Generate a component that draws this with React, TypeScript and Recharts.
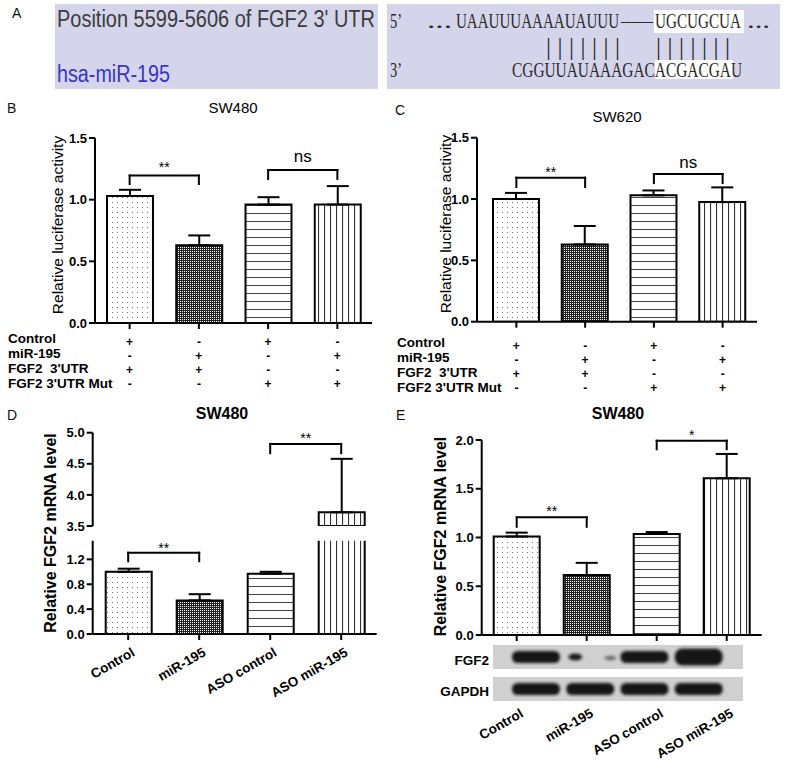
import React from 'react';
import { Bar, BarChart, Cell, ErrorBar, ReferenceLine, XAxis, YAxis } from 'recharts';

const FONT = '"Liberation Sans", Arial, Helvetica, sans-serif';
const SERIF = '"Liberation Serif", "Times New Roman", serif';
const LAVENDER = '#d4d4ea';

// panels B and C: luciferase reporter
const lucGroups = ['ctrl-wt', 'mir-wt', 'ctrl-mut', 'mir-mut'];
const sw480LucMean = [1.03, 0.63, 0.96, 0.96];
const sw480LucSem = [0.05, 0.08, 0.06, 0.15];
const sw620LucMean = [1.0, 0.63, 1.03, 0.975];
const sw620LucSem = [0.05, 0.15, 0.04, 0.12];
const lucTicks = [0, 0.5, 1.0, 1.5];

const tableRowLabels = ['Control', 'miR-195', "FGF2  3'UTR", "FGF2 3'UTR Mut"];
const tableRows = [
    ['+', '-', '+', '-'],
    ['-', '+', '-', '+'],
    ['+', '+', '-', '-'],
    ['-', '-', '+', '+'],
];

// panels D and E: FGF2 mRNA
const mrnaGroups = ['Control', 'miR-195', 'ASO control', 'ASO miR-195'];
const sw480MrnaMeanD = [1.0, 0.54, 0.97, 3.72];
const sw480MrnaSemD = [0.05, 0.1, 0.03, 0.86];
const dLowTicks = [0, 0.4, 0.8, 1.2];
const dHighTicks = [3.5, 4.0, 4.5, 5.0];
const sw480MrnaMeanE = [1.01, 0.615, 1.036, 1.607];
const sw480MrnaSemE = [0.04, 0.125, 0.02, 0.25];
const eTicks = [0, 0.5, 1.0, 1.5, 2.0];

// western blot band intensity (relative)
const fgf2Band = [1.0, 0.3, 1.0, 1.4];
const gapdhBand = [1.0, 1.0, 1.0, 1.0];

type Bracket = { from: string; to: string; y: number; low: number; text: string; gap: number; size: number };

const sw480LucBrackets: Bracket[] = [
    { from: 'ctrl-wt', to: 'mir-wt', y: 1.195, low: 1.127, text: '**', gap: 4, size: 14 },
    { from: 'ctrl-mut', to: 'mir-mut', y: 1.24, low: 1.168, text: 'ns', gap: 8.5, size: 17 },
];
const sw620LucBrackets: Bracket[] = [
    { from: 'ctrl-wt', to: 'mir-wt', y: 1.174, low: 1.098, text: '**', gap: 1, size: 14 },
    { from: 'ctrl-mut', to: 'mir-mut', y: 1.204, low: 1.13, text: 'ns', gap: 6.5, size: 17 },
];
const dLowBrackets: Bracket[] = [
    { from: 'Control', to: 'miR-195', y: 1.307, low: 1.17, text: '**', gap: 0, size: 14 },
];
const dHighBrackets: Bracket[] = [
    { from: 'ASO control', to: 'ASO miR-195', y: 4.82, low: 4.67, text: '**', gap: 1, size: 14 },
];
const eBrackets: Bracket[] = [
    { from: 'Control', to: 'miR-195', y: 1.207, low: 1.11, text: '**', gap: 1, size: 14 },
    { from: 'ASO control', to: 'ASO miR-195', y: 1.993, low: 1.905, text: '*', gap: 1, size: 14 },
];

const groupFills = ['url(#fillDots)', 'url(#fillChecker)', 'url(#fillHLines)', 'url(#fillVLines)'];

const black2 = { stroke: '#000', strokeWidth: 2 };

function yTick(p: any) {
    return (
        <text x={p.x} y={p.y} dy={4.6} textAnchor="end" fill="#000" fontSize={13} fontWeight={700} fontFamily={FONT}>
            {Number(p.payload.value).toFixed(1)}
        </text>
    );
}

function makeRows(groups: string[], mean: (number | null)[], sem: (number | null)[]) {
    return groups.map((name, i) => ({
        name,
        value: mean[i],
        err: mean[i] == null || sem[i] == null ? null : [0, sem[i]],
    }));
}

function bracketLines(list: Bracket[], prefix: string) {
    return list.flatMap((b, i) => [
        <ReferenceLine
            key={`${prefix}${i}h`}
            segment={[{ x: b.from, y: b.y }, { x: b.to, y: b.y }]}
            {...black2}
            strokeLinecap="square"
            ifOverflow="visible"
            label={{ value: b.text, position: 'top', offset: b.gap, fill: '#000', fontSize: b.size, fontFamily: FONT }}
        />,
        <ReferenceLine
            key={`${prefix}${i}l`}
            segment={[{ x: b.from, y: b.low }, { x: b.from, y: b.y }]}
            {...black2}
            strokeLinecap="square"
            ifOverflow="visible"
        />,
        <ReferenceLine
            key={`${prefix}${i}r`}
            segment={[{ x: b.to, y: b.low }, { x: b.to, y: b.y }]}
            {...black2}
            strokeLinecap="square"
            ifOverflow="visible"
        />,
    ]);
}

function groupBars(data: { value: number | null }[]) {
    return (
        <Bar dataKey="value" barSize={46} stroke="#000" strokeWidth={2} isAnimationActive={false}>
            {data.map((_, i) => (
                <Cell key={i} fill={groupFills[i]} />
            ))}
            <ErrorBar dataKey="err" width={11} stroke="#000" strokeWidth={2} direction="y" />
        </Bar>
    );
}

function tableTick(offset: number) {
    return (p: any) => {
        const idx = p.payload?.index ?? p.index;
        return (
            <g>
                {tableRows.map((row, r) => (
                    <text
                        key={r}
                        x={p.x}
                        y={p.y + offset + r * 14}
                        textAnchor="middle"
                        fill="#000"
                        fontSize={12}
                        fontWeight={700}
                        fontFamily={FONT}
                    >
                        {row[idx]}
                    </text>
                ))}
            </g>
        );
    };
}

function slantTick(dy: number) {
    return (p: any) => (
        <text
            x={p.x}
            y={p.y}
            dy={dy}
            textAnchor="end"
            transform={`rotate(-30 ${p.x} ${p.y})`}
            fill="#000"
            fontSize={13.5}
            fontWeight={700}
            fontFamily={FONT}
        >
            {p.payload.value}
        </text>
    );
}

function bandShape(p: any) {
    const cx = p.x + p.width / 2;
    const mid = 12;
    const h = p.height;
    if (h < 6) {
        return (
            <g filter="url(#blotBlur)">
                <ellipse cx={cx - 15} cy={mid} rx={7} ry={3.5} fill="#1e1e1e" />
                <ellipse cx={cx + 20} cy={mid + 1} rx={6} ry={2.2} fill="#6a6a6a" />
            </g>
        );
    }
    return (
        <rect
            x={cx - p.width / 2}
            y={mid - h / 2}
            width={p.width}
            height={h}
            rx={h / 2.2}
            fill="#141414"
            filter="url(#blotBlur)"
        />
    );
}

function Patterns() {
    return (
        <svg width={0} height={0} style={{ position: 'absolute' }}>
            <defs>
                <pattern id="fillDots" width="5" height="5" patternUnits="userSpaceOnUse">
                    <rect width="5" height="5" fill="#fff" />
                    <rect x="2" y="2" width="1" height="1" fill="#777" />
                </pattern>
                <pattern id="fillChecker" width="2" height="2" patternUnits="userSpaceOnUse">
                    <rect width="2" height="2" fill="#222" />
                    <rect width="1" height="1" fill="#fff" />
                </pattern>
                <pattern id="fillHLines" width="10" height="8" patternUnits="userSpaceOnUse">
                    <rect width="10" height="8" fill="#fff" />
                    <line x1="0" y1="0.5" x2="10" y2="0.5" stroke="#444" strokeWidth="1" />
                </pattern>
                <pattern id="fillVLines" width="6" height="10" patternUnits="userSpaceOnUse">
                    <rect width="6" height="10" fill="#fff" />
                    <line x1="0.5" y1="0" x2="0.5" y2="10" stroke="#333" strokeWidth="1.2" />
                </pattern>
                <filter id="blotBlur" x="-50%" y="-100%" width="200%" height="300%">
                    <feGaussianBlur stdDeviation="1.6" />
                </filter>
            </defs>
        </svg>
    );
}

function Overlay() {
    const seq = { fontFamily: SERIF, fontSize: 22, fill: '#2a2a2a' };
    const fit = 'spacingAndGlyphs' as const;
    const letter = { fontFamily: FONT, fontSize: 14, fill: '#111' };
    const rowLabel = { fontFamily: FONT, fontSize: 13.5, fontWeight: 700, fill: '#000', style: { whiteSpace: 'pre' as const } };
    const yTitle = (x: number, y: number, text: string, size: number, weight: number) => (
        <text
            transform={`translate(${x},${y}) rotate(-90)`}
            textAnchor="middle"
            dominantBaseline="central"
            fontFamily={FONT}
            fontSize={size}
            fontWeight={weight}
            fill="#000"
        >
            {text}
        </text>
    );
    return (
        <svg width={800} height={761} style={{ position: 'absolute', left: 0, top: 0 }}>
            {/* panel A */}
            <text x={12} y={18} {...letter}>A</text>
            <rect x={55} y={4} width={323} height={85} fill={LAVENDER} />
            <rect x={387} y={4} width={393} height={85} fill={LAVENDER} />
            <text x={57} y={27} fontFamily={FONT} fontSize={23.5} fill="#3c3c3c" textLength={318} lengthAdjust={fit}>
                Position 5599-5606 of FGF2 3' UTR
            </text>
            <text x={57} y={82} fontFamily={FONT} fontSize={23} fill="#3636c8" textLength={113} lengthAdjust={fit}>
                hsa-miR-195
            </text>
            <rect x={654} y={10} width={90} height={23} fill="#fff" />
            <text y={28} {...seq}>
                <tspan x={390} textLength={12} lengthAdjust={fit}>5’</tspan>
                <tspan x={427} textLength={25} lengthAdjust={fit}>...</tspan>
                <tspan x={456} textLength={163} lengthAdjust={fit}>UAAUUUAAAAUAUUU</tspan>
                <tspan x={621} textLength={32} lengthAdjust={fit}>———</tspan>
                <tspan x={655} textLength={86} lengthAdjust={fit}>UGCUGCUA</tspan>
                <tspan x={747} textLength={23} lengthAdjust={fit}>...</tspan>
            </text>
            <text y={55} fontFamily={SERIF} fontSize={25} fill="#2a2a2a">
                <tspan x={546} textLength={74} lengthAdjust="spacing">|||||||</tspan>
                <tspan x={656} textLength={74} lengthAdjust="spacing">|||||||</tspan>
            </text>
            <rect x={655} y={60} width={78} height={19} fill="#fff" />
            <text y={77} {...seq}>
                <tspan x={390} textLength={12} lengthAdjust={fit}>3’</tspan>
                <tspan x={512} textLength={230} lengthAdjust={fit}>CGGUUAUAAAGACACGACGAU</tspan>
            </text>

            {/* panel B */}
            <text x={7} y={113} {...letter}>B</text>
            <text x={233} y={113} textAnchor="middle" fontFamily={FONT} fontSize={15} fill="#000">SW480</text>
            {yTitle(57.5, 225, 'Relative luciferase activity', 15.5, 400)}
            {tableRowLabels.map((t, r) => (
                <text key={r} x={8} y={343 + r * 15} {...rowLabel}>{t}</text>
            ))}

            {/* panel C */}
            <text x={395} y={115} {...letter}>C</text>
            <text x={617} y={122} textAnchor="middle" fontFamily={FONT} fontSize={15} fill="#000">SW620</text>
            {yTitle(445, 224, 'Relative luciferase activity', 15.5, 400)}
            {tableRowLabels.map((t, r) => (
                <text key={r} x={397} y={347 + r * 15} {...rowLabel}>{t}</text>
            ))}

            {/* panel D */}
            <text x={7} y={420} {...letter}>D</text>
            <text x={222} y={419} textAnchor="middle" fontFamily={FONT} fontSize={16} fontWeight={700} fill="#000">SW480</text>
            {yTitle(50, 533, 'Relative FGF2 mRNA level', 16, 700)}

            {/* panel E */}
            <text x={396} y={420} {...letter}>E</text>
            <text x={618} y={419} textAnchor="middle" fontFamily={FONT} fontSize={16} fontWeight={700} fill="#000">SW480</text>
            {yTitle(440, 536.5, 'Relative FGF2 mRNA level', 16, 700)}
            <text x={489} y={665} textAnchor="end" fontFamily={FONT} fontSize={13.5} fontWeight={700} fill="#000">FGF2</text>
            <text x={489} y={696} textAnchor="end" fontFamily={FONT} fontSize={13.5} fontWeight={700} fill="#000">GAPDH</text>
        </svg>
    );
}

function LucChart({
    left, top, width, height, mean, sem, brackets, marginTop, marginRight, yWidth, xHeight, padLeft, tickOffset,
}: {
    left: number; top: number; width: number; height: number; mean: number[]; sem: number[]; brackets: Bracket[];
    marginTop: number; marginRight: number; yWidth: number; xHeight: number; padLeft: number; tickOffset: number;
}) {
    const data = makeRows(lucGroups, mean, sem);
    return (
        <div style={{ position: 'absolute', left, top }}>
            <BarChart width={width} height={height} data={data} margin={{ top: marginTop, right: marginRight, bottom: 0, left: 0 }}>
                <XAxis
                    dataKey="name"
                    height={xHeight}
                    axisLine={black2}
                    tickLine={black2}
                    tickSize={6}
                    interval={0}
                    padding={{ left: padLeft, right: 0 }}
                    tick={tableTick(tickOffset)}
                />
                <YAxis
                    width={yWidth}
                    domain={[0, 1.5]}
                    ticks={lucTicks}
                    allowDataOverflow
                    interval={0}
                    axisLine={black2}
                    tickLine={black2}
                    tick={yTick}
                />
                {groupBars(data)}
                {bracketLines(brackets, 'b')}
            </BarChart>
        </div>
    );
}

export default function App() {
    const dLow = makeRows(mrnaGroups, sw480MrnaMeanD, sw480MrnaSemD);
    const dHigh = makeRows(
        mrnaGroups,
        sw480MrnaMeanD.map((v) => (v > 3.5 ? v : null)),
        sw480MrnaSemD.map((s, i) => (sw480MrnaMeanD[i] > 3.5 ? s : null)),
    );
    const eData = makeRows(mrnaGroups, sw480MrnaMeanE, sw480MrnaSemE);
    const blotData = mrnaGroups.map((name, i) => ({ name, fgf2: fgf2Band[i], gapdh: gapdhBand[i] }));

    return (
        <div style={{ position: 'absolute', left: 0, top: 0, width: 800, height: 761, background: '#fff', overflow: 'hidden' }}>
            <Patterns />
            <Overlay />

            <LucChart
                left={0} top={125} width={385} height={270}
                mean={sw480LucMean} sem={sw480LucSem} brackets={sw480LucBrackets}
                marginTop={13} marginRight={13} yWidth={95} xHeight={72} padLeft={0} tickOffset={14.5}
            />
            <LucChart
                left={380} top={125} width={420} height={270}
                mean={sw620LucMean} sem={sw620LucSem} brackets={sw620LucBrackets}
                marginTop={12.7} marginRight={43} yWidth={97} xHeight={73.3} padLeft={5} tickOffset={19.8}
            />

            {/* D: broken y axis, upper segment */}
            <div style={{ position: 'absolute', left: 0, top: 425 }}>
                <BarChart width={392} height={110} data={dHigh} margin={{ top: 7.7, right: 15.3, bottom: 9, left: 0 }}>
                    <XAxis dataKey="name" hide />
                    <YAxis
                        width={92.7}
                        domain={[3.5, 5]}
                        ticks={dHighTicks}
                        allowDataOverflow
                        interval={0}
                        axisLine={black2}
                        tickLine={black2}
                        tick={yTick}
                    />
                    {groupBars(dHigh)}
                    {bracketLines(dHighBrackets, 'dh')}
                </BarChart>
            </div>
            {/* D: lower segment */}
            <div style={{ position: 'absolute', left: 0, top: 530 }}>
                <BarChart width={392} height={231} data={dLow} margin={{ top: 10.7, right: 15.3, bottom: 47, left: 0 }}>
                    <XAxis
                        dataKey="name"
                        height={80}
                        axisLine={black2}
                        tickLine={black2}
                        tickSize={6}
                        interval={0}
                        tick={slantTick(15)}
                    />
                    <YAxis
                        width={92.7}
                        domain={[0, 1.5]}
                        ticks={dLowTicks}
                        allowDataOverflow
                        interval={0}
                        axisLine={black2}
                        tickLine={black2}
                        tick={yTick}
                    />
                    {groupBars(dLow)}
                    {bracketLines(dLowBrackets, 'dl')}
                </BarChart>
            </div>

            {/* E */}
            <div style={{ position: 'absolute', left: 380, top: 425 }}>
                <BarChart width={420} height={336} data={eData} margin={{ top: 15, right: 38.3, bottom: 0, left: 0 }}>
                    <XAxis
                        dataKey="name"
                        height={126}
                        axisLine={black2}
                        tickLine={black2}
                        tickSize={6}
                        tickMargin={62}
                        interval={0}
                        tick={slantTick(15)}
                    />
                    <YAxis
                        width={101.7}
                        domain={[0, 2]}
                        ticks={eTicks}
                        allowDataOverflow
                        interval={0}
                        axisLine={black2}
                        tickLine={black2}
                        tick={yTick}
                    />
                    {groupBars(eData)}
                    {bracketLines(eBrackets, 'e')}
                </BarChart>
            </div>

            {/* western blot strips */}
            <div style={{ position: 'absolute', left: 493, top: 645, width: 250, height: 24, background: '#d0d0d0' }}>
                <BarChart width={250} height={24} data={blotData} margin={{ top: 0, right: 17, bottom: 0, left: 16 }}>
                    <XAxis dataKey="name" hide />
                    <YAxis hide domain={[0, 2]} />
                    <Bar dataKey="fgf2" barSize={48} shape={bandShape} isAnimationActive={false} />
                </BarChart>
            </div>
            <div style={{ position: 'absolute', left: 493, top: 677, width: 250, height: 24, background: '#d0d0d0' }}>
                <BarChart width={250} height={24} data={blotData} margin={{ top: 0, right: 17, bottom: 0, left: 16 }}>
                    <XAxis dataKey="name" hide />
                    <YAxis hide domain={[0, 2]} />
                    <Bar dataKey="gapdh" barSize={48} shape={bandShape} isAnimationActive={false} />
                </BarChart>
            </div>
        </div>
    );
}
